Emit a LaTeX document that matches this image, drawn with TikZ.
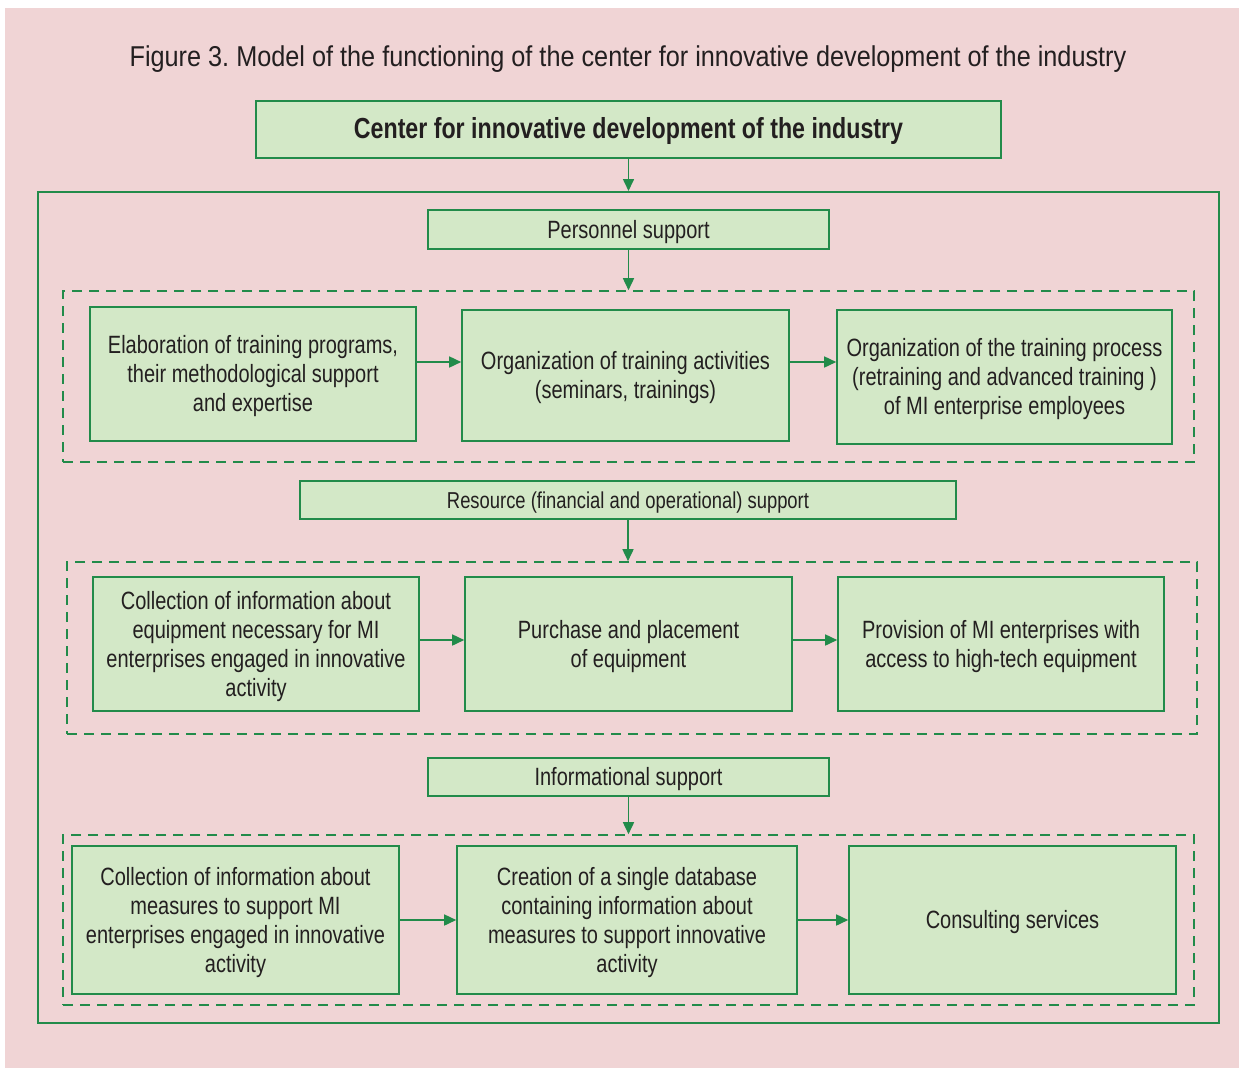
\documentclass[tikz,border=0pt]{standalone}
\usepackage{fontspec}
\setmainfont{Liberation Sans}[FakeStretch=0.8]
\newfontfamily\titlefont{Liberation Sans}[FakeStretch=0.88]
\usetikzlibrary{arrows.meta}
\definecolor{bgpink}{RGB}{240,212,213}
\definecolor{boxfill}{RGB}{211,232,199}
\definecolor{boxline}{RGB}{34,139,74}
\definecolor{txt}{RGB}{35,31,32}
\frenchspacing
\tikzset{
  greenbox/.style={draw=boxline, fill=boxfill, line width=1.6pt, inner sep=0pt, align=center, text=txt, font=\fontsize{25}{29}\selectfont},
  oneline/.style={text height=22.3pt},
  twolines/.style={text height=51.3pt},
  threelines/.style={text height=80.3pt},
  fourlines/.style={text height=109.3pt},
  dashbox/.style={draw=boxline, dash pattern=on 10pt off 7pt, line width=1.6pt, inner sep=0pt},
  arr/.style={draw=boxline, line width=1.6pt, -{Triangle[length=12pt,width=11pt]}}
}
\begin{document}
\begin{tikzpicture}[x=1pt,y=-1pt]
\useasboundingbox (0,0) rectangle (1239,1068);
\fill[white] (0,0) rectangle (1239,1068);
\fill[bgpink] (5,8) rectangle (1239,1068);
\node[text=txt, font=\titlefont\fontsize{28.7}{32}\selectfont] (title) at (628,59) {Figure 3. Model of the functioning of the center for innovative development of the industry};
\node[greenbox, minimum width=745pt, minimum height=57pt, text height=25pt, font=\bfseries\fontsize{29}{32}\selectfont] (center) at (628.5,129.5) {Center for innovative development of the industry};
\node[draw=boxline, line width=2pt, minimum width=1181pt, minimum height=831pt, inner sep=0pt] (outer) at (628.5,607.5) {};
\draw[arr] (center.south) -- (center.south |- outer.north);
\node[greenbox, oneline, minimum width=401pt, minimum height=39pt] (pers) at (628.5,229.5) {Personnel support};
\node[dashbox, minimum width=1131pt, minimum height=171pt] (lane1) at (628.5,376.5) {};
\node[greenbox, threelines, minimum width=326pt, minimum height=134pt] (elab) at (253,374) {Elaboration of training programs,\\their methodological support\\and expertise};
\node[greenbox, twolines, minimum width=327pt, minimum height=131pt] (orgact) at (625.5,375.5) {Organization of training activities\\(seminars, trainings)};
\node[greenbox, threelines, minimum width=335pt, minimum height=134pt] (orgproc) at (1004.5,377) {Organization of the training process\\(retraining and advanced training )\\of MI enterprise employees};
\draw[arr] (pers.south) -- (pers.south |- lane1.north);
\draw[arr] ([yshift=12pt]elab.east) -- ([yshift=13.5pt]orgact.west);
\draw[arr] ([yshift=13.5pt]orgact.east) -- ([yshift=15pt]orgproc.west);
\node[greenbox, minimum width=656pt, minimum height=38pt, text height=20.8pt, font=\fontsize{23}{27}\selectfont] (res) at (628,500) {Resource (financial and operational) support};
\node[dashbox, minimum width=1130pt, minimum height=172pt] (lane2) at (632,648) {};
\node[greenbox, fourlines, minimum width=326pt, minimum height=134pt] (collequip) at (256,644) {Collection of information about\\equipment necessary for MI\\enterprises engaged in innovative\\activity};
\node[greenbox, twolines, minimum width=327pt, minimum height=134pt] (purchase) at (628.5,644) {Purchase and placement\\of equipment};
\node[greenbox, twolines, minimum width=326pt, minimum height=134pt] (provision) at (1001,644) {Provision of MI enterprises with\\access to high-tech equipment};
\draw[arr] (res.south) -- (res.south |- lane2.north);
\draw[arr] ([yshift=4pt]collequip.east) -- ([yshift=4pt]purchase.west);
\draw[arr] ([yshift=4pt]purchase.east) -- ([yshift=4pt]provision.west);
\node[greenbox, oneline, minimum width=401pt, minimum height=38pt] (info) at (628.5,777) {Informational support};
\node[dashbox, minimum width=1131pt, minimum height=170pt] (lane3) at (628.5,920) {};
\node[greenbox, fourlines, minimum width=327pt, minimum height=148pt] (collmeas) at (235.5,920) {Collection of information about\\measures to support MI\\enterprises engaged in innovative\\activity};
\node[greenbox, fourlines, minimum width=340pt, minimum height=148pt] (database) at (627,920) {Creation of a single database\\containing information about\\measures to support innovative\\activity};
\node[greenbox, oneline, minimum width=327pt, minimum height=148pt] (consult) at (1012.5,920) {Consulting services};
\draw[arr] (info.south) -- (info.south |- lane3.north);
\draw[arr] (collmeas) -- (database);
\draw[arr] (database) -- (consult);
\end{tikzpicture}
\end{document}
